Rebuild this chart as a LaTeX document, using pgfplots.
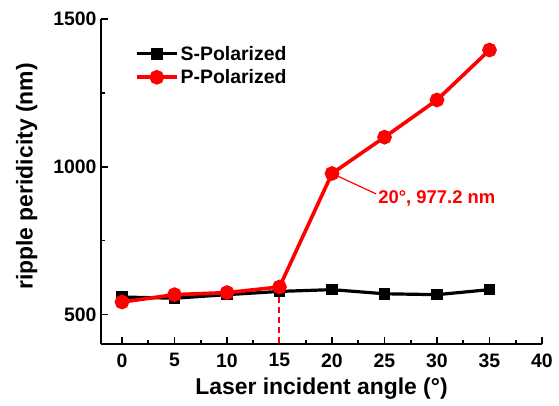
\documentclass[border=0pt]{standalone}
\usepackage{fontspec}
\setmainfont{Liberation Sans}
\usepackage{pgfplots}
\pgfplotsset{compat=1.18}
\definecolor{pred}{RGB}{255,0,0}
\begin{document}
\begin{tikzpicture}[x=1bp,y=1bp]
\begin{axis}[
  anchor=south west, at={(0,0)},
  scale only axis, width=441bp, height=325bp,
  xmin=-2, xmax=40, ymin=400, ymax=1500,
  axis x line*=bottom, axis y line*=left,
  axis line style={line width=2bp},
  xtick={0,5,...,40}, ytick={500,1000,1500},
  minor x tick num=1, minor y tick num=1,
  tick align=inside,
  major tick length=7bp, minor tick length=4bp,
  every tick/.style={line width=1.6bp, black},
  /pgf/number format/assume math mode=true,
  /pgf/number format/1000 sep={},
  ticklabel style={font=\fontsize{19.5}{22}\selectfont\bfseries},
  xticklabel style={yshift=-6bp},
  yticklabel style={xshift=-1bp},
  xlabel style={font=\fontsize{23}{26}\selectfont\bfseries, yshift=-4bp},
  ylabel style={font=\fontsize{23}{26}\selectfont\bfseries, yshift=9bp, xshift=5bp},
  xlabel={Laser incident angle (°)},
  ylabel={ripple peridicity (nm)},
  legend style={at={(0.07,0.93)}, anchor=north west, draw=none, fill=none,
    font=\fontsize{19.5}{22}\selectfont\bfseries, row sep=4bp},
  legend cell align=left,
  legend image code/.code={\draw[#1] (0bp,0bp) -- (40bp,0bp); \draw[#1, only marks] plot coordinates {(20bp,0bp)};},
  clip=false,
]
\addplot[black, line width=3.2bp, mark=square*, mark size=4.2bp] coordinates {
 (0,559) (5,555) (10,567) (15,578) (20,584) (25,570) (30,567) (35,584)};
\addlegendentry{S-Polarized}
\addplot[pred, line width=3.6bp, mark=*, mark size=5.5bp] coordinates {
 (0,542) (5,567) (10,574) (15,593) (20,977.2) (25,1100) (30,1226) (35,1395)};
\addlegendentry{P-Polarized}
\draw[draw=pred, line width=2bp, dashed, dash pattern=on 6bp off 4bp] (axis cs:15,404) -- (axis cs:15,570);
\draw[pred, line width=1.2bp] (axis cs:20,977.2) -- (axis cs:24.2,908);
\node[anchor=west, text=pred, font=\fontsize{18.5}{20}\selectfont\bfseries, inner sep=1bp] at (axis cs:24.3,893) {20°, 977.2 nm};
\end{axis}
\pgfresetboundingbox
\path (-101bp,-62bp) rectangle (458bp,344bp);
\end{tikzpicture}
\end{document}
